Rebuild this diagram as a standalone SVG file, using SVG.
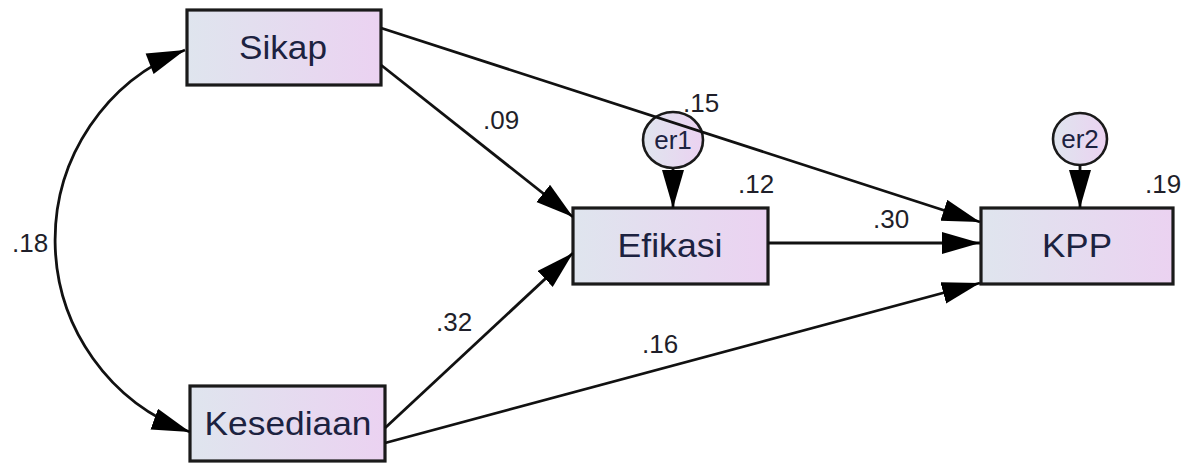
<svg xmlns="http://www.w3.org/2000/svg" width="1191" height="464" viewBox="0 0 1191 464">
<style>
.box{stroke:#1a1a1a;stroke-width:3.2;fill:url(#g)}
.err{stroke:#1a1a1a;stroke-width:2.6;fill:url(#g)}
.lbl{font-family:"Liberation Sans",Arial,sans-serif;font-size:33px;fill:#1c2240;text-anchor:middle}
.elbl{font-family:"Liberation Sans",Arial,sans-serif;font-size:26px;fill:#1c2240;text-anchor:middle}
.num{font-family:"Liberation Sans",Arial,sans-serif;font-size:26px;fill:#1f1f2a}
.c{stroke:#111;stroke-width:2.8;fill:none;marker-end:url(#a)}
</style>
<defs>
<linearGradient id="g" x1="0" y1="0" x2="1" y2="0">
<stop offset="0" stop-color="#dfe5ee"/>
<stop offset="1" stop-color="#ebd2f1"/>
</linearGradient>
<marker id="a" markerUnits="userSpaceOnUse" markerWidth="40" markerHeight="24" refX="38" refY="11" orient="auto">
<path d="M0,0 L38,11 L0,22 z" fill="#000"/>
</marker>
<marker id="as" markerUnits="userSpaceOnUse" markerWidth="40" markerHeight="24" refX="0" refY="11" orient="auto">
<path d="M38,0 L0,11 L38,22 z" fill="#000"/>
</marker>
</defs>
<g id="sikap"><rect class="box" x="187" y="10" width="194" height="75"/><text class="lbl" x="283" y="59" textLength="88" lengthAdjust="spacingAndGlyphs">Sikap</text></g>
<g id="kesediaan"><rect class="box" x="190" y="386" width="195" height="75"/><text class="lbl" x="288" y="435" textLength="167" lengthAdjust="spacingAndGlyphs">Kesediaan</text></g>
<g id="efikasi"><rect class="box" x="573" y="208" width="195" height="76"/><text class="lbl" x="670" y="257" textLength="105" lengthAdjust="spacingAndGlyphs">Efikasi</text></g>
<g id="kpp"><rect class="box" x="981" y="208" width="192" height="76"/><text class="lbl" x="1077" y="257" textLength="70" lengthAdjust="spacingAndGlyphs">KPP</text></g>
<g id="er1"><ellipse class="err" cx="673" cy="140" rx="30" ry="28"/><text class="elbl" x="673" y="149">er1</text></g>
<g id="er2"><ellipse class="err" cx="1080" cy="139" rx="27" ry="26"/><text class="elbl" x="1080" y="148">er2</text></g>
<g id="connectors">
<path class="c" d="M185,50 A204,204 0 0 0 190,432" marker-start="url(#as)"/>
<line class="c" x1="381" y1="65" x2="573" y2="217"/>
<line class="c" x1="385" y1="428" x2="573" y2="253"/>
<line class="c" x1="381" y1="28" x2="980" y2="222"/>
<line class="c" x1="768" y1="243" x2="980" y2="243"/>
<line class="c" x1="385" y1="443" x2="980" y2="283"/>
<line class="c" x1="673" y1="168" x2="673" y2="208"/>
<line class="c" x1="1080" y1="165" x2="1080" y2="208"/>
</g>
<g id="labels">
<text class="num" x="12" y="252">.18</text>
<text class="num" x="483" y="129">.09</text>
<text class="num" x="683" y="112">.15</text>
<text class="num" x="738" y="193">.12</text>
<text class="num" x="1145" y="193">.19</text>
<text class="num" x="873" y="228">.30</text>
<text class="num" x="436" y="331">.32</text>
<text class="num" x="642" y="353">.16</text>
</g>
</svg>
